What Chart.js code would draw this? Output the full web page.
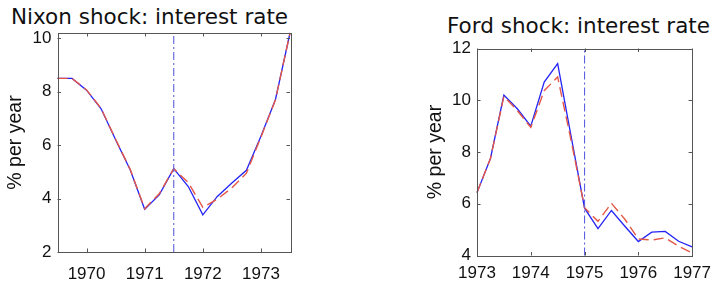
<!DOCTYPE html>
<html>
<head>
<meta charset="utf-8">
<script src="https://cdn.jsdelivr.net/npm/chart.js@4/dist/chart.umd.min.js"></script>
<style>
  html, body { margin:0; padding:0; background:#fff; }
  body { width:719px; height:282px; position:relative; overflow:hidden; }
  canvas { position:absolute; top:0; }
  .title { position:absolute; font-family:"DejaVu Sans", sans-serif; font-size:21.5px; color:#111; white-space:nowrap; line-height:1; }
</style>
</head>
<body>
<div class="title" id="t1" style="left:11px; top:6px;">Nixon shock: interest rate</div>
<div class="title" id="t2" style="left:447px; top:15px;">Ford shock: interest rate</div>
<canvas id="c1" width="300" height="282" style="left:0;width:300px;height:282px"></canvas>
<canvas id="c2" width="319" height="282" style="left:400px;width:319px;height:282px"></canvas>
<script>
// ---- data ----
const nixonQuarters = [1969.5, 1969.75, 1970, 1970.25, 1970.5, 1970.75, 1971, 1971.25, 1971.5, 1971.75, 1972, 1972.25, 1972.5, 1972.75, 1973, 1973.25, 1973.5];
const nixonActual   = [8.5, 8.5, 8.06, 7.36, 6.2, 5.08, 3.6, 4.14, 5.12, 4.45, 3.39, 4.08, 4.58, 5.06, 6.33, 7.71, 10.2];
const nixonModel    = [8.5, 8.5, 8.07, 7.38, 6.22, 5.1, 3.62, 4.18, 5.12, 4.6, 3.67, 3.98, 4.4, 4.95, 6.3, 7.7, 10.2];
const nixonShockDate = 1971.5;
const nixonYTicks = [2, 4, 6, 8, 10];
const nixonXTicks = [1970, 1971, 1972, 1973];

const fordQuarters = [1973, 1973.25, 1973.5, 1973.75, 1974, 1974.25, 1974.5, 1974.75, 1975, 1975.25, 1975.5, 1975.75, 1976, 1976.25, 1976.5, 1976.75, 1977];
const fordActual   = [6.43, 7.75, 10.2, 9.67, 9.0, 10.7, 11.42, 8.6, 5.83, 5.04, 5.74, 5.13, 4.54, 4.9, 4.93, 4.55, 4.33];
const fordModel    = [6.43, 7.75, 10.15, 9.6, 8.95, 10.37, 10.9, 8.45, 5.85, 5.32, 6.02, 5.4, 4.64, 4.6, 4.68, 4.36, 4.1];
const fordShockDate = 1975;
const fordYTicks = [4, 6, 8, 10, 12];
const fordXTicks = [1973, 1974, 1975, 1976, 1977];

// ---- helpers ----
const BLUE = 'rgb(35,35,245)';
const RED = 'rgb(228,88,72)';
const VLINE = 'rgb(95,95,225)';
const AXIS = '#555';

function pts(xs, ys) { return xs.map((x, i) => ({x: x, y: ys[i]})); }

const boxPlugin = {
  id: 'box',
  afterDatasetsDraw(chart) {
    const {ctx, chartArea: a, scales: {x, y}} = chart;
    ctx.save();
    ctx.strokeStyle = AXIS;
    ctx.lineWidth = 1;
    ctx.strokeRect(Math.round(a.left) + 0.5, Math.round(a.top) + 0.5, Math.round(a.right - a.left), Math.round(a.bottom - a.top));
    const L = 3.5;
    ctx.beginPath();
    x.ticks.forEach(t => {
      const px = Math.round(x.getPixelForValue(t.value)) + 0.5;
      ctx.moveTo(px, a.bottom); ctx.lineTo(px, a.bottom - L);
      ctx.moveTo(px, a.top); ctx.lineTo(px, a.top + L);
    });
    y.ticks.forEach(t => {
      const py = Math.round(y.getPixelForValue(t.value)) + 0.5;
      ctx.moveTo(a.left, py); ctx.lineTo(a.left + L, py);
      ctx.moveTo(a.right, py); ctx.lineTo(a.right - L, py);
    });
    ctx.stroke();
    ctx.restore();
  }
};

function makeChart(id, cfg) {
  return new Chart(document.getElementById(id), {
    type: 'line',
    data: {
      datasets: [
        { data: pts(cfg.xs, cfg.model), borderColor: RED, borderWidth: 1.4, borderDash: [10, 5], pointRadius: 0, fill: false, tension: 0, order: 1 },
        { data: pts(cfg.xs, cfg.actual), borderColor: BLUE, borderWidth: 1.3, pointRadius: 0, fill: false, tension: 0, order: 2 },
        { data: [{x: cfg.shock, y: cfg.ymin}, {x: cfg.shock, y: cfg.ymax}], borderColor: VLINE, borderWidth: 1.1, borderDash: [8, 3, 2, 3], pointRadius: 0, fill: false, order: 0 }
      ]
    },
    options: {
      responsive: false,
      animation: false,
      clip: false,
      layout: { padding: cfg.pad },
      plugins: { legend: { display: false }, tooltip: { enabled: false }, title: { display: false } },
      scales: {
        x: {
          type: 'linear', min: cfg.xmin, max: cfg.xmax,
          grid: { display: false, drawTicks: false }, border: { display: false },
          afterBuildTicks: s => { s.ticks = cfg.xticks.map(v => ({value: v})); },
          afterFit: s => { s.height = cfg.xh; },
          ticks: { color: '#111', font: { family: 'Liberation Sans', size: 17 }, padding: cfg.xpad, maxRotation: 0, autoSkip: false, callback: v => String(v) }
        },
        y: {
          min: cfg.ymin, max: cfg.ymax,
          grid: { display: false, drawTicks: false }, border: { display: false },
          afterBuildTicks: s => { s.ticks = cfg.yticks.map(v => ({value: v})); },
          afterFit: s => { s.width = cfg.yw; },
          ticks: { color: '#111', font: { family: 'Liberation Sans', size: 17 }, padding: 6, callback: v => String(v) },
          title: { display: true, text: '% per year', color: '#111', font: { family: 'Liberation Sans', size: 19.5 }, padding: { top: cfg.ytp, bottom: 0 } }
        }
      }
    },
    plugins: [boxPlugin]
  });
}

makeChart('c1', { xs: nixonQuarters, actual: nixonActual, model: nixonModel, shock: nixonShockDate,
  xmin: 1969.5, xmax: 1973.5, ymin: 2, ymax: 10.2, xticks: nixonXTicks, yticks: nixonYTicks,
  pad: { top: 33, right: 10, left: 0, bottom: 0 }, xh: 30, yw: 57.5, xpad: 12, ytp: 4 });

makeChart('c2', { xs: fordQuarters, actual: fordActual, model: fordModel, shock: fordShockDate,
  xmin: 1973, xmax: 1977, ymin: 4, ymax: 12, xticks: fordXTicks, yticks: fordYTicks,
  pad: { top: 48.5, right: 19, left: 0, bottom: 0 }, xh: 26.5, yw: 77, xpad: 8, ytp: 24 });
</script>
</body>
</html>
